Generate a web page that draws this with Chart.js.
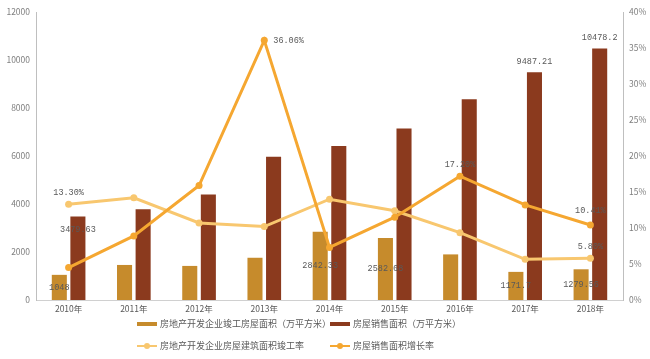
<!DOCTYPE html>
<html>
<head>
<meta charset="utf-8">
<script src="https://cdn.jsdelivr.net/npm/chart.js@4/dist/chart.umd.min.js"></script>
<style>
  html, body { margin: 0; padding: 0; background: #fff; }
  #wrap { position: relative; width: 650px; height: 359px; }
  #legend { position: absolute; left: 0; top: 0; width: 650px; height: 359px; pointer-events: none;
    font-family: "Noto Sans CJK SC", sans-serif; font-size: 9px; color: #595959; }
  .item { position: absolute; height: 12px; line-height: 12px; white-space: nowrap; }
  .mark { position: absolute; left: 0; width: 20px; }
  .txt { position: absolute; left: 23px; top: 0; }
</style>
</head>
<body>
<div id="wrap">
  <canvas id="chart" width="650" height="359"></canvas>
  <div id="legend"></div>
</div>
<script>
// Chart data
const years = ['2010年', '2011年', '2012年', '2013年', '2014年', '2015年', '2016年', '2017年', '2018年'];
const completedArea = [1048, 1460, 1420, 1760, 2842.33, 2582.68, 1900, 1171.7, 1279.56];
const salesArea = [3479.63, 3780, 4400, 5970, 6420, 7150, 8360, 9487.21, 10478.2];
const completionRate = [13.30, 14.2, 10.7, 10.2, 14.0, 12.4, 9.35, 5.65, 5.80];
const salesGrowth = [4.5, 8.9, 15.9, 36.06, 7.3, 11.5, 17.2, 13.2, 10.41];

const leftTicks = [0, 2000, 4000, 6000, 8000, 10000, 12000];
const rightTicks = [0, 5, 10, 15, 20, 25, 30, 35, 40];

const seriesNames = [
  '房地产开发企业竣工房屋面积（万平方米）',
  '房屋销售面积（万平方米）',
  '房地产开发企业房屋建筑面积竣工率',
  '房屋销售面积增长率'
];
const colors = ['#C68B2C', '#8B3A1E', '#F8C76F', '#F5A731'];

// which points carry a value label, and where it sits (keyed by dataset index)
const labelSpots = {
  0: { 0: 'center', 4: 'center', 5: 'center', 7: 'center', 8: 'center' },
  1: { 0: 'inside', 7: 'above', 8: 'above' },
  2: { 0: 'above', 8: 'above' },
  3: { 3: 'right', 6: 'above', 8: 'aboveHigh' }
};

const valueLabels = {
  id: 'valueLabels',
  afterDatasetsDraw(chart) {
    const ctx = chart.ctx;
    ctx.save();
    ctx.font = '8.5px "Liberation Mono", monospace';
    ctx.fillStyle = '#595959';
    ctx.textBaseline = 'middle';
    chart.data.datasets.forEach((ds, di) => {
      const spots = labelSpots[di] || {};
      const meta = chart.getDatasetMeta(di);
      Object.keys(spots).forEach(k => {
        const el = meta.data[k];
        const v = ds.data[k];
        const text = ds.type === 'line' ? v.toFixed(2) + '%' : String(v);
        let x = el.x, y = el.y;
        ctx.textAlign = 'center';
        const mode = spots[k];
        if (mode === 'center') y = (el.y + el.base) / 2;
        else if (mode === 'inside') y = el.y + 13;
        else if (mode === 'above') y = el.y - 11;
        else if (mode === 'aboveHigh') y = el.y - 14;
        else if (mode === 'right') { ctx.textAlign = 'left'; x = el.x + 9; }
        ctx.fillText(text, x, y);
      });
    });
    ctx.restore();
  }
};

const tickFont = { family: '"Noto Sans CJK SC", sans-serif', size: 8.5 };

const chart = new Chart(document.getElementById('chart'), {
  data: {
    labels: years,
    datasets: [
      { type: 'bar', label: seriesNames[0], data: completedArea, yAxisID: 'y',
        backgroundColor: colors[0], barPercentage: 0.81, categoryPercentage: 0.57, order: 2 },
      { type: 'bar', label: seriesNames[1], data: salesArea, yAxisID: 'y',
        backgroundColor: colors[1], barPercentage: 0.81, categoryPercentage: 0.57, order: 3 },
      { type: 'line', label: seriesNames[2], data: completionRate, yAxisID: 'y1',
        borderColor: colors[2], backgroundColor: colors[2], borderWidth: 3,
        pointRadius: 3.5, pointBorderWidth: 0, pointHoverRadius: 3.5, order: 1 },
      { type: 'line', label: seriesNames[3], data: salesGrowth, yAxisID: 'y1',
        borderColor: colors[3], backgroundColor: colors[3], borderWidth: 3,
        pointRadius: 3.5, pointBorderWidth: 0, pointHoverRadius: 3.5, order: 0 }
    ]
  },
  options: {
    responsive: false,
    animation: false,
    layout: { padding: { top: 12, left: 0, right: 0, bottom: 0 } },
    plugins: { legend: { display: false }, tooltip: { enabled: false } },
    scales: {
      x: {
        grid: { display: false, drawTicks: false },
        border: { color: '#d0d0d0', width: 1 },
        ticks: { font: tickFont, color: '#595959', padding: 4, maxRotation: 0 },
        afterFit(scale) { scale.height = 59; }
      },
      y: {
        position: 'left', min: 0, max: 12000,
        afterBuildTicks(scale) { scale.ticks = leftTicks.map(v => ({ value: v })); },
        grid: { display: false, drawOnChartArea: false, drawTicks: true, tickLength: 3, tickColor: '#bfbfbf' },
        border: { color: '#bfbfbf', width: 1 },
        ticks: { font: tickFont, color: '#7f7f7f', padding: 3, callback: v => String(v) },
        afterFit(scale) { scale.width = 36; }
      },
      y1: {
        position: 'right', min: 0, max: 40,
        afterBuildTicks(scale) { scale.ticks = rightTicks.map(v => ({ value: v })); },
        grid: { display: false, drawOnChartArea: false, drawTicks: true, tickLength: 3, tickColor: '#bfbfbf' },
        border: { color: '#bfbfbf', width: 1 },
        ticks: { font: tickFont, color: '#7f7f7f', padding: 3, callback: v => v + '%' },
        afterFit(scale) { scale.width = 27; }
      }
    }
  },
  plugins: [valueLabels]
});

// Legend in two aligned columns under the chart
function buildLegend() {
  const legend = document.getElementById('legend');
  const spots = [
    { name: seriesNames[0], color: colors[0], kind: 'bar', left: 137, top: 318 },
    { name: seriesNames[1], color: colors[1], kind: 'bar', left: 330, top: 318 },
    { name: seriesNames[2], color: colors[2], kind: 'line', left: 137, top: 340 },
    { name: seriesNames[3], color: colors[3], kind: 'line', left: 330, top: 340 }
  ];
  spots.forEach(s => {
    const item = document.createElement('div');
    item.className = 'item';
    item.style.left = s.left + 'px';
    item.style.top = s.top + 'px';
    let mark;
    if (s.kind === 'bar') {
      mark = `<div class="mark" style="top:4px;height:4px;background:${s.color}"></div>`;
    } else {
      mark = `<div class="mark" style="top:5px;height:2px;background:${s.color}"></div>
        <div style="position:absolute;left:7px;top:3px;width:6px;height:6px;border-radius:3px;background:${s.color}"></div>`;
    }
    item.innerHTML = mark + `<div class="txt">${s.name}</div>`;
    legend.appendChild(item);
  });
}
buildLegend();
</script>
</body>
</html>
